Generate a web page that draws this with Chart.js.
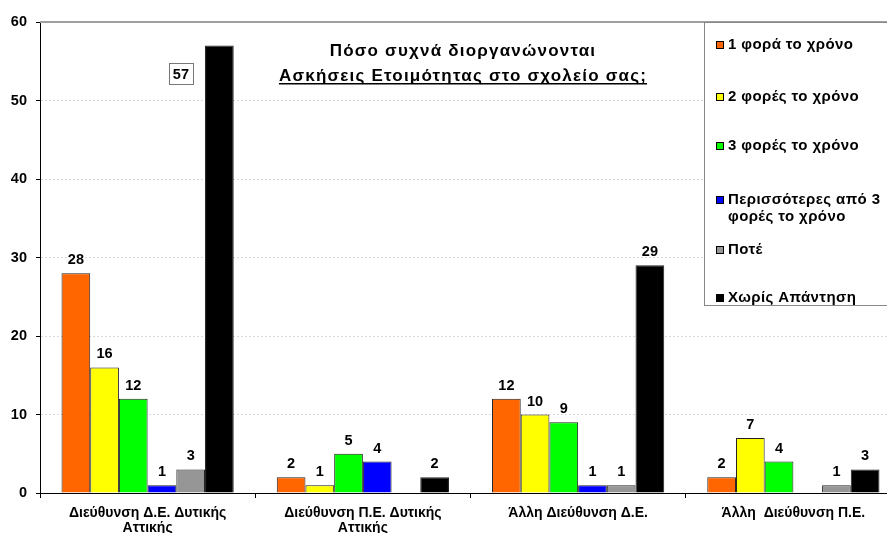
<!DOCTYPE html>
<html>
<head>
<meta charset="utf-8">
<script src="https://cdn.jsdelivr.net/npm/chart.js@4"></script>
<style>
  html, body { margin: 0; padding: 0; background: #fff; overflow: hidden; }
  #wrap { width: 901px; height: 533px; }
</style>
</head>
<body>
<div id="wrap"><canvas id="chart" width="901" height="533"></canvas></div>
<script>
// Categories (directorates)
const categories = [
  ["Διεύθυνση Δ.Ε. Δυτικής", "Αττικής"],
  ["Διεύθυνση Π.Ε. Δυτικής", "Αττικής"],
  "Άλλη Διεύθυνση Δ.Ε.",
  "Άλλη  Διεύθυνση Π.Ε."
];

const seriesNames = [
  "1 φορά το χρόνο",
  "2 φορές το χρόνο",
  "3 φορές το χρόνο",
  ["Περισσότερες από 3", "φορές το χρόνο"],
  "Ποτέ",
  "Χωρίς Απάντηση"
];

// answers per series, one value per category (null = no bar)
const oncePerYear   = [28, 2, 12, 2];
const twicePerYear  = [16, 1, 10, 7];
const threePerYear  = [12, 5, 9, 4];
const moreThanThree = [1, 4, 1, null];
const never         = [3, null, 1, 1];
const noAnswer      = [57, 2, 29, 3];

const yTicks = [0, 10, 20, 30, 40, 50, 60];

const colors = ["#FF6600", "#FFFF00", "#00FF00", "#0000FF", "#969696", "#000000"];
const allSeries = [oncePerYear, twicePerYear, threePerYear, moreThanThree, never, noAnswer];

const FONT = "'Liberation Sans', Arial, sans-serif";

// value labels above bars (the big one gets a boxed label beside the bar)
const valueLabels = {
  id: "valueLabels",
  afterDatasetsDraw(chart) {
    const ctx = chart.ctx;
    ctx.save();
    ctx.font = "bold 14.5px " + FONT;
    ctx.textAlign = "center";
    ctx.textBaseline = "middle";
    chart.data.datasets.forEach((ds, i) => {
      const meta = chart.getDatasetMeta(i);
      meta.data.forEach((bar, j) => {
        const v = ds.data[j];
        if (v == null) return;
        if (v > 50) {
          const bx = bar.x - 38.5, by = bar.y + 28.5;
          ctx.fillStyle = "#fff";
          ctx.fillRect(bx - 12, by - 11, 24, 22);
          ctx.strokeStyle = "#777";
          ctx.lineWidth = 1;
          ctx.strokeRect(Math.round(bx - 12) + 0.5, Math.round(by - 11) + 0.5, 24, 21);
          ctx.fillStyle = "#000";
          ctx.fillText(String(v), bx, by + 1);
        } else {
          ctx.fillStyle = "#000";
          ctx.fillText(String(v), bar.x, bar.y - 13);
        }
      });
    });
    ctx.restore();
  }
};

// frame line at the top, title and legend box
const decorations = {
  id: "decorations",
  beforeDatasetsDraw(chart) {
    const { ctx, chartArea } = chart;
    ctx.save();
    ctx.strokeStyle = "#a0a0a0";
    ctx.lineWidth = 2;
    ctx.beginPath();
    ctx.moveTo(chartArea.left, chartArea.top);
    ctx.lineTo(chartArea.right, chartArea.top);
    ctx.stroke();
    ctx.restore();
  },
  afterDraw(chart) {
    const ctx = chart.ctx;
    ctx.save();
    // title
    ctx.fillStyle = "#000";
    ctx.font = "bold 17px " + FONT;
    ctx.letterSpacing = "1.2px";
    ctx.textAlign = "center";
    ctx.textBaseline = "alphabetic";
    const cx = 463;
    ctx.fillText("Πόσο συχνά διοργανώνονται", cx, 56);
    const line2 = "Ασκήσεις Ετοιμότητας στο σχολείο σας;";
    ctx.fillText(line2, cx, 81);
    const w = ctx.measureText(line2).width;
    ctx.fillRect(cx - w / 2, 83, w, 1.5);
    ctx.letterSpacing = "0px";

    // legend box
    ctx.fillStyle = "#fff";
    ctx.fillRect(704, 23, 200, 282);
    ctx.strokeStyle = "#888";
    ctx.lineWidth = 1;
    ctx.strokeRect(704.5, 22.5, 200, 283);
    const rows = [45, 97, 146, 200, 250, 298];
    ctx.font = "bold 15px " + FONT;
    ctx.letterSpacing = "0.4px";
    ctx.textAlign = "left";
    ctx.textBaseline = "middle";
    chart.data.datasets.forEach((ds, i) => {
      const y = rows[i];
      ctx.fillStyle = ds.backgroundColor;
      ctx.fillRect(716, y - 4, 8, 8);
      ctx.strokeStyle = "#000";
      ctx.strokeRect(716.5, y - 3.5, 7, 7);
      ctx.fillStyle = "#000";
      const lines = Array.isArray(ds.label) ? ds.label : [ds.label];
      lines.forEach((t, k) => ctx.fillText(t, 728, y + k * 17));
    });
    ctx.restore();
  }
};

new Chart(document.getElementById("chart"), {
  type: "bar",
  data: {
    labels: categories,
    datasets: allSeries.map((d, i) => ({
      label: seriesNames[i],
      data: d,
      backgroundColor: colors[i],
      borderColor: "#222",
      borderWidth: 1,
      categoryPercentage: 0.8,
      barPercentage: 1.0
    }))
  },
  options: {
    responsive: false,
    animation: false,
    layout: { padding: { top: 22, right: 0, left: 0, bottom: 0 } },
    plugins: {
      legend: { display: false },
      tooltip: { enabled: false }
    },
    scales: {
      y: {
        min: 0,
        max: 60,
        afterBuildTicks: s => { s.ticks = yTicks.map(v => ({ value: v })); },
        afterFit: s => { s.width = 40; },
        ticks: {
          color: "#000",
          font: { family: FONT, size: 14.5, weight: "bold" },
          padding: 9
        },
        grid: {
          color: c => (c.tick.value === 60 ? "rgba(0,0,0,0)" : "#d8d8d8"),
          tickColor: "#000",
          tickLength: 4,
          lineWidth: 1
        },
        border: { color: "#000", width: 1, dash: [2, 2] }
      },
      x: {
        afterFit: s => { s.height = 40; },
        ticks: {
          color: "#000",
          font: { family: FONT, size: 14, weight: "bold", lineHeight: 1.1 },
          padding: 7,
          maxRotation: 0
        },
        grid: {
          offset: true,
          drawOnChartArea: false,
          tickLength: 5,
          color: "#000"
        },
        border: { color: "#000", width: 1 }
      }
    }
  },
  plugins: [decorations, valueLabels]
});
</script>
</body>
</html>
